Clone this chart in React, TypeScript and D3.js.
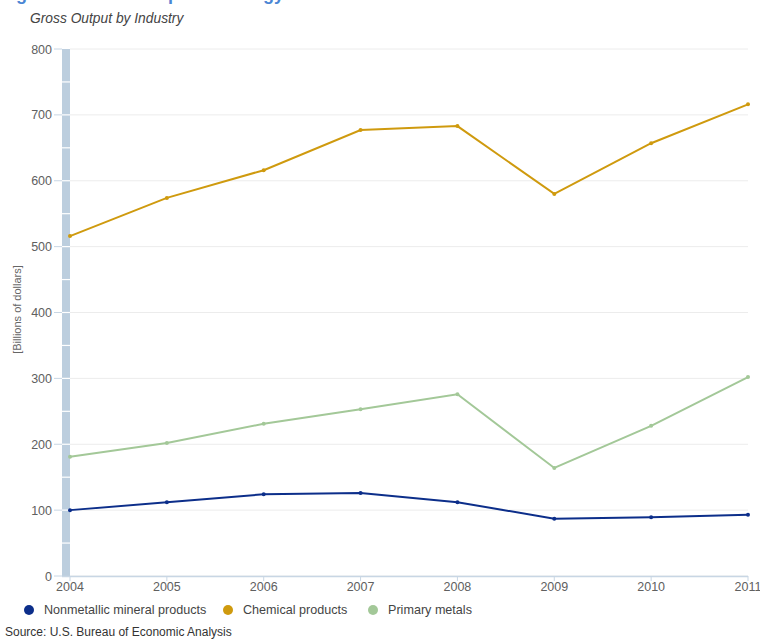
import React from "react";
import * as d3 from "d3";

const years = [2004, 2005, 2006, 2007, 2008, 2009, 2010, 2011];
const nonmetallic = [100, 112, 124, 126, 112, 87, 89, 93];
const chemical = [516, 574, 616, 677, 683, 580, 657, 716];
const primaryMetals = [181, 202, 231, 253, 276, 164, 228, 302];
const yTicks = [0, 100, 200, 300, 400, 500, 600, 700, 800];
const seriesNames = ["Nonmetallic mineral products", "Chemical products", "Primary metals"];
const seriesColors = ["#0c2e8a", "#cf9a0e", "#a3c898"];

const W = 760;
const H = 639;
const FONT = "'Liberation Sans', Arial, sans-serif";

export default function App() {
  const x = d3.scaleLinear().domain([2004, 2011]).range([70, 748]);
  const y = d3.scaleLinear().domain([0, 800]).range([576, 49]);
  const line = d3
    .line<number>()
    .x((_, i) => x(years[i]))
    .y((d) => y(d));
  const series = [nonmetallic, chemical, primaryMetals];
  const bandTicks = d3.range(0, 801, 50);
  const legendX = [29, 228, 373];

  return (
    <svg
      width={W}
      height={H}
      style={{ position: "absolute", left: 0, top: 0, background: "#fff" }}
      fontFamily={FONT}
    >
      <text x={0} y={0} fontSize={18} fontWeight="bold" fill="#4a86d4">
        Figure 2. Gross Output of Energy-Intensive Industries
      </text>
      <text x={30} y={23} fontSize={13.8} fontStyle="italic" fill="#444">
        Gross Output by Industry
      </text>

      {/* gridlines */}
      {yTicks.map((t) => (
        <line key={"g" + t} x1={70} x2={748} y1={y(t)} y2={y(t)} stroke="#ececec" strokeWidth={1} />
      ))}

      {/* left band */}
      <rect x={62} y={y(800)} width={8} height={y(0) - y(800)} fill="#bccede" />
      {bandTicks.slice(1, -1).map((t) => (
        <line key={"b" + t} x1={62} x2={70} y1={y(t)} y2={y(t)} stroke="#fff" strokeWidth={1.2} />
      ))}

      {/* y ticks */}
      {yTicks.map((t) => (
        <g key={"t" + t}>
          <line x1={54} x2={62} y1={y(t)} y2={y(t)} stroke="#c8d6e4" strokeWidth={1} />
          <text x={52} y={y(t) + 4.5} fontSize={12.5} fill="#606060" textAnchor="end">
            {t}
          </text>
        </g>
      ))}

      <text
        transform={`translate(21,${y(400) - 3}) rotate(-90)`}
        fontSize={11}
        fill="#666"
        textAnchor="middle"
      >
        [Billions of dollars]
      </text>

      {/* x axis */}
      <line x1={62} x2={748} y1={576.5} y2={576.5} stroke="#c8d6e4" strokeWidth={1.5} />
      {years.map((yr) => (
        <g key={"x" + yr}>
          <line x1={x(yr)} x2={x(yr)} y1={576} y2={581} stroke="#c8d6e4" strokeWidth={1} />
          <text x={x(yr)} y={591} fontSize={12.5} fill="#606060" textAnchor="middle">
            {yr}
          </text>
        </g>
      ))}

      {/* series */}
      {series.map((s, si) => (
        <g key={"s" + si}>
          <path d={line(s) || ""} fill="none" stroke={seriesColors[si]} strokeWidth={2} />
          {s.map((v, i) => (
            <circle key={i} cx={x(years[i])} cy={y(v)} r={2} fill={seriesColors[si]} />
          ))}
        </g>
      ))}

      {/* legend */}
      {seriesNames.map((n, i) => (
        <g key={"l" + i}>
          <circle cx={legendX[i]} cy={610} r={5} fill={seriesColors[i]} />
          <text x={legendX[i] + 15} y={614} fontSize={12.6} fill="#444">
            {n}
          </text>
        </g>
      ))}

      <text x={5} y={636} fontSize={12} fill="#333">
        Source: U.S. Bureau of Economic Analysis
      </text>
    </svg>
  );
}
